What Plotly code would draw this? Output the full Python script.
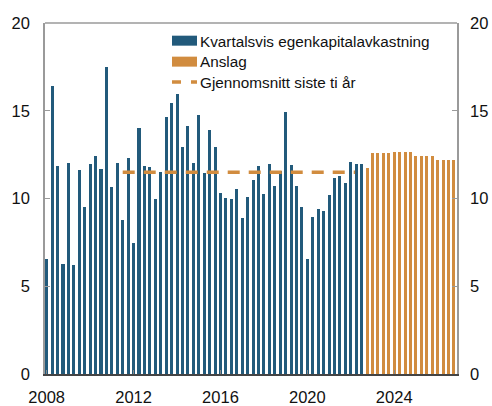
import plotly.graph_objects as go

# ---- data ----
actual_start = "2008Q1"
actual_values = [6.58, 16.43, 11.85, 6.28, 12.0, 6.2, 11.62, 9.5, 11.96, 12.41,
                 11.7, 17.47, 10.65, 12.0, 8.76, 12.28, 7.47, 14.0, 11.85, 11.8,
                 9.95, 11.52, 14.65, 15.46, 15.97, 12.94, 14.14, 12.0, 14.78, 11.45,
                 13.89, 12.94, 10.3, 10.03, 9.95, 10.54, 8.89, 10.09, 11.05, 11.85,
                 10.27, 11.96, 10.73, 11.58, 14.91, 11.92, 10.69, 9.52, 6.55, 8.95,
                 9.4, 9.27, 10.2, 11.18, 11.28, 10.88, 12.09, 11.94, 11.94]
forecast_start = "2022Q4"
forecast_values = [11.75, 12.6, 12.6, 12.6, 12.62, 12.66, 12.66, 12.66, 12.66,
                   12.4, 12.4, 12.4, 12.4, 12.19, 12.19, 12.19, 12.19]
avg_x = [2011.5, 2022.2]
avg_value = 11.5
tick_years = [2008, 2012, 2016, 2020, 2024]
y_ticks = [0, 5, 10, 15, 20]
legend_labels = ["Kvartalsvis egenkapitalavkastning", "Anslag", "Gjennomsnitt siste ti år"]

BLUE = "#225a7b"
ORANGE = "#d18c3f"
FONT = "Liberation Sans, Arial, Helvetica, sans-serif"


def quarter_positions(start, n):
    y, q = int(start[:4]), int(start[-1])
    base = y + (q - 1) / 4
    return [base + i / 4 for i in range(n)]


xa = quarter_positions(actual_start, len(actual_values))
xf = quarter_positions(forecast_start, len(forecast_values))

fig = go.Figure()
fig.add_trace(go.Bar(x=xa, y=actual_values, marker=dict(color=BLUE, line=dict(width=0)),
                     width=0.14, showlegend=False))
fig.add_trace(go.Bar(x=xf, y=forecast_values, marker=dict(color=ORANGE, line=dict(width=0)),
                     width=0.14, showlegend=False))
fig.add_trace(go.Scatter(x=avg_x, y=[avg_value, avg_value], mode="lines",
                         line=dict(color=ORANGE, width=3.5, dash="12px,9px"),
                         showlegend=False))
# invisible trace to activate right axis
fig.add_trace(go.Scatter(x=[xa[0]], y=[0], yaxis="y2", mode="markers",
                         marker=dict(opacity=0), showlegend=False, hoverinfo="skip"))

L, R, T, B = 45, 35, 23, 31.5
W, H = 492, 406
pw, ph = W - L - R, H - T - B


def px(X):
    return (X - L) / pw


def py(Y):
    return (H - B - Y) / ph


shapes = [
    dict(type="line", xref="paper", yref="paper", x0=0, x1=1, y0=1, y1=1,
         line=dict(color="#9a9a9a", width=1.5)),
    dict(type="rect", xref="paper", yref="paper", x0=px(172), x1=px(197), y0=py(45.7), y1=py(35.7),
         fillcolor=BLUE, line=dict(width=0)),
    dict(type="rect", xref="paper", yref="paper", x0=px(172), x1=px(197), y0=py(66.7), y1=py(56.7),
         fillcolor=ORANGE, line=dict(width=0)),
    dict(type="line", xref="paper", yref="paper", x0=px(172), x1=px(197), y0=py(82), y1=py(82),
         line=dict(color=ORANGE, width=3.5, dash="9px,10px")),
]
annotations = []
for lab, yc in zip(legend_labels, [41.5, 62, 82.5]):
    annotations.append(dict(text=lab, xref="paper", yref="paper", x=px(197.5), y=py(yc),
                            xanchor="left", yanchor="middle", showarrow=False,
                            font=dict(family=FONT, size=15.3, color="#111")))

fig.update_layout(
    width=W, height=H,
    margin=dict(l=L, r=R, t=T, b=B, autoexpand=False),
    paper_bgcolor="white", plot_bgcolor="white",
    barmode="overlay", bargap=0,
    font=dict(family=FONT, size=16.5, color="#111"),
    xaxis=dict(range=[2007.922, 2026.89], tickvals=tick_years, automargin=False,
               ticktext=[str(t) for t in tick_years],
               showgrid=False, zeroline=False, showline=True, linecolor="#444", linewidth=1.5,
               ticks="inside", ticklen=4, tickcolor="#888", ticklabelstandoff=7),
    yaxis=dict(range=[0, 20], tickvals=y_ticks, showgrid=False, zeroline=False, automargin=False,
               showline=True, linecolor="#9a9a9a", linewidth=1.5,
               ticks="inside", ticklen=5, tickcolor="#9a9a9a", ticklabelstandoff=10),
    yaxis2=dict(range=[0, 20], tickvals=y_ticks, overlaying="y", side="right", automargin=False,
                showgrid=False, zeroline=False, showline=True, linecolor="#9a9a9a", linewidth=1.5,
                ticks="inside", ticklen=5, tickcolor="#9a9a9a", ticklabelstandoff=8),
    shapes=shapes, annotations=annotations,
)

fig.write_html("out.html", config={"displayModeBar": False},
               post_script="document.body.style.margin='0';document.body.style.overflow='hidden';")
